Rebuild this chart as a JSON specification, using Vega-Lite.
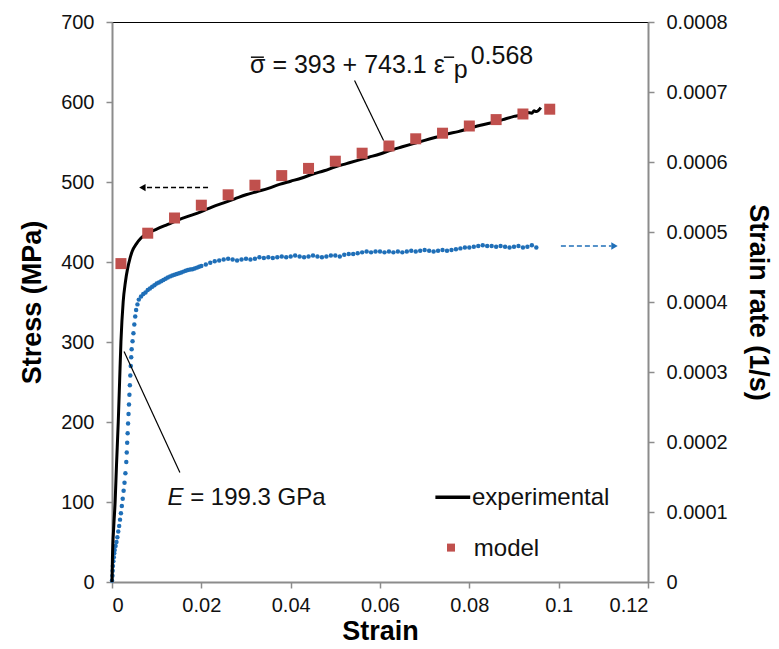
{
  "$schema": "https://vega.github.io/schema/vega-lite/v6.json",
  "width": 536,
  "height": 560,
  "autosize": "none",
  "padding": {"left": 112, "top": 22, "right": 131, "bottom": 67},
  "background": "white",
  "config": {
    "font": "Liberation Sans",
    "view": {"stroke": "#000", "strokeWidth": 1},
    "axis": {
      "grid": false,
      "labelFont": "Liberation Sans",
      "labelFontSize": 20,
      "labelColor": "#111",
      "titleFont": "Liberation Sans",
      "titleFontSize": 27,
      "titleFontWeight": "bold",
      "titleColor": "#000",
      "domainColor": "#8c8c8c",
      "domainWidth": 2,
      "tickColor": "#8c8c8c",
      "tickWidth": 1.5,
      "tickSize": 6
    }
  },
  "datasets": {
    "rate": [
      {"x": 0, "r": 0.0000023}, {"x": 0.0001, "r": 0.0000091}, {"x": 0.00015, "r": 0.0000160}, {"x": 0.0002, "r": 0.0000229},
      {"x": 0.0003, "r": 0.0000297}, {"x": 0.0004, "r": 0.0000354}, {"x": 0.0005, "r": 0.0000411}, {"x": 0.0006, "r": 0.0000457},
      {"x": 0.0008, "r": 0.0000514}, {"x": 0.0010, "r": 0.0000571}, {"x": 0.0012, "r": 0.0000640}, {"x": 0.0014, "r": 0.0000720},
      {"x": 0.0016, "r": 0.0000800}, {"x": 0.0018, "r": 0.0000891}, {"x": 0.0020, "r": 0.0000983}, {"x": 0.0022, "r": 0.0001086},
      {"x": 0.0024, "r": 0.0001189}, {"x": 0.0026, "r": 0.0001303}, {"x": 0.0028, "r": 0.0001417}, {"x": 0.0030, "r": 0.0001554},
      {"x": 0.0032, "r": 0.0001714}, {"x": 0.0033, "r": 0.0001851}, {"x": 0.0034, "r": 0.0001989}, {"x": 0.0035, "r": 0.0002126},
      {"x": 0.0036, "r": 0.0002263}, {"x": 0.0037, "r": 0.0002400}, {"x": 0.0038, "r": 0.0002537}, {"x": 0.0039, "r": 0.0002674},
      {"x": 0.0040, "r": 0.0002811}, {"x": 0.0041, "r": 0.0002949}, {"x": 0.0042, "r": 0.0003086}, {"x": 0.0043, "r": 0.0003211},
      {"x": 0.0044, "r": 0.0003326}, {"x": 0.0046, "r": 0.0003440}, {"x": 0.0048, "r": 0.0003554}, {"x": 0.0050, "r": 0.0003680},
      {"x": 0.0052, "r": 0.0003794}, {"x": 0.0054, "r": 0.0003886}, {"x": 0.0057, "r": 0.0003966}, {"x": 0.0060, "r": 0.0004034},
      {"x": 0.0065, "r": 0.0004080}, {"x": 0.0070, "r": 0.0004114}, {"x": 0.0075, "r": 0.0004137}, {"x": 0.0080, "r": 0.0004171},
      {"x": 0.0085, "r": 0.0004194}, {"x": 0.0090, "r": 0.0004217}, {"x": 0.0095, "r": 0.0004240}, {"x": 0.0100, "r": 0.0004263},
      {"x": 0.0105, "r": 0.0004280}, {"x": 0.0110, "r": 0.0004297}, {"x": 0.0115, "r": 0.0004314}, {"x": 0.0120, "r": 0.0004331},
      {"x": 0.0125, "r": 0.0004350}, {"x": 0.0130, "r": 0.0004366}, {"x": 0.0135, "r": 0.0004377}, {"x": 0.0140, "r": 0.0004389},
      {"x": 0.0145, "r": 0.0004400}, {"x": 0.0150, "r": 0.0004411}, {"x": 0.0155, "r": 0.0004423}, {"x": 0.0160, "r": 0.0004434},
      {"x": 0.0165, "r": 0.0004446}, {"x": 0.0170, "r": 0.0004457}, {"x": 0.0175, "r": 0.0004463}, {"x": 0.0180, "r": 0.0004469},
      {"x": 0.0185, "r": 0.0004480}, {"x": 0.0190, "r": 0.0004491}, {"x": 0.0195, "r": 0.0004503}, {"x": 0.0200, "r": 0.0004514},
      {"x": 0.0210, "r": 0.0004537}, {"x": 0.0220, "r": 0.0004560}, {"x": 0.0230, "r": 0.0004583}, {"x": 0.0240, "r": 0.0004594},
      {"x": 0.0250, "r": 0.0004606}, {"x": 0.0260, "r": 0.0004617}, {"x": 0.0270, "r": 0.0004606}, {"x": 0.0280, "r": 0.0004594},
      {"x": 0.0290, "r": 0.0004606}, {"x": 0.0300, "r": 0.0004617}, {"x": 0.0310, "r": 0.0004606}, {"x": 0.0320, "r": 0.0004617},
      {"x": 0.0330, "r": 0.0004640}, {"x": 0.0340, "r": 0.0004629}, {"x": 0.0350, "r": 0.0004640}, {"x": 0.0360, "r": 0.0004629},
      {"x": 0.0370, "r": 0.0004640}, {"x": 0.0380, "r": 0.0004651}, {"x": 0.0390, "r": 0.0004640}, {"x": 0.0400, "r": 0.0004651},
      {"x": 0.0410, "r": 0.0004663}, {"x": 0.0420, "r": 0.0004651}, {"x": 0.0430, "r": 0.0004640}, {"x": 0.0440, "r": 0.0004651},
      {"x": 0.0450, "r": 0.0004663}, {"x": 0.0460, "r": 0.0004651}, {"x": 0.0470, "r": 0.0004640}, {"x": 0.0480, "r": 0.0004651},
      {"x": 0.0490, "r": 0.0004663}, {"x": 0.0500, "r": 0.0004663}, {"x": 0.0510, "r": 0.0004651}, {"x": 0.0520, "r": 0.0004674},
      {"x": 0.0530, "r": 0.0004686}, {"x": 0.0540, "r": 0.0004686}, {"x": 0.0550, "r": 0.0004697}, {"x": 0.0560, "r": 0.0004709},
      {"x": 0.0570, "r": 0.0004720}, {"x": 0.0580, "r": 0.0004709}, {"x": 0.0590, "r": 0.0004720}, {"x": 0.0600, "r": 0.0004720},
      {"x": 0.0610, "r": 0.0004709}, {"x": 0.0620, "r": 0.0004720}, {"x": 0.0630, "r": 0.0004709}, {"x": 0.0640, "r": 0.0004720},
      {"x": 0.0650, "r": 0.0004709}, {"x": 0.0660, "r": 0.0004720}, {"x": 0.0670, "r": 0.0004731}, {"x": 0.0680, "r": 0.0004720},
      {"x": 0.0690, "r": 0.0004731}, {"x": 0.0700, "r": 0.0004743}, {"x": 0.0710, "r": 0.0004731}, {"x": 0.0720, "r": 0.0004720},
      {"x": 0.0730, "r": 0.0004731}, {"x": 0.0740, "r": 0.0004743}, {"x": 0.0750, "r": 0.0004731}, {"x": 0.0760, "r": 0.0004743},
      {"x": 0.0770, "r": 0.0004754}, {"x": 0.0780, "r": 0.0004766}, {"x": 0.0790, "r": 0.0004777}, {"x": 0.0800, "r": 0.0004777},
      {"x": 0.0810, "r": 0.0004789}, {"x": 0.0820, "r": 0.0004800}, {"x": 0.0830, "r": 0.0004811}, {"x": 0.0840, "r": 0.0004800},
      {"x": 0.0850, "r": 0.0004800}, {"x": 0.0860, "r": 0.0004789}, {"x": 0.0870, "r": 0.0004800}, {"x": 0.0880, "r": 0.0004789},
      {"x": 0.0890, "r": 0.0004777}, {"x": 0.0900, "r": 0.0004789}, {"x": 0.0910, "r": 0.0004800}, {"x": 0.0920, "r": 0.0004777},
      {"x": 0.0930, "r": 0.0004789}, {"x": 0.0940, "r": 0.0004811}, {"x": 0.0950, "r": 0.0004777}
    ],
    "rateArrow": [{"x": 0.1005, "x2": 0.1118, "r": 0.00048}],
    "rateHead": [{"x": 0.1125, "r": 0.00048}],
    "experimental": [
      {"x": 0, "y": 0}, {"x": 0.0001, "y": 30}, {"x": 0.0004, "y": 70}, {"x": 0.0007, "y": 100}, {"x": 0.001, "y": 145},
      {"x": 0.0014, "y": 200}, {"x": 0.0017, "y": 250}, {"x": 0.002, "y": 300}, {"x": 0.0025, "y": 350}, {"x": 0.003, "y": 375},
      {"x": 0.0035, "y": 392}, {"x": 0.004, "y": 404}, {"x": 0.0045, "y": 413}, {"x": 0.0055, "y": 423}, {"x": 0.0065, "y": 430},
      {"x": 0.0081, "y": 436}, {"x": 0.010, "y": 441}, {"x": 0.0125, "y": 447}, {"x": 0.015, "y": 453}, {"x": 0.0175, "y": 458},
      {"x": 0.020, "y": 463}, {"x": 0.0225, "y": 469}, {"x": 0.025, "y": 474}, {"x": 0.0275, "y": 479}, {"x": 0.030, "y": 484},
      {"x": 0.0325, "y": 488}, {"x": 0.035, "y": 492}, {"x": 0.0375, "y": 497}, {"x": 0.040, "y": 501}, {"x": 0.0425, "y": 505},
      {"x": 0.045, "y": 510}, {"x": 0.0475, "y": 514}, {"x": 0.050, "y": 519}, {"x": 0.0525, "y": 523}, {"x": 0.055, "y": 527},
      {"x": 0.0575, "y": 531}, {"x": 0.060, "y": 535}, {"x": 0.0625, "y": 540}, {"x": 0.065, "y": 544}, {"x": 0.0675, "y": 548},
      {"x": 0.070, "y": 552}, {"x": 0.0725, "y": 556}, {"x": 0.075, "y": 560}, {"x": 0.0775, "y": 563}, {"x": 0.080, "y": 567},
      {"x": 0.0825, "y": 571}, {"x": 0.085, "y": 574}, {"x": 0.0875, "y": 578}, {"x": 0.090, "y": 582}, {"x": 0.0915, "y": 584},
      {"x": 0.092, "y": 586}, {"x": 0.0925, "y": 584}, {"x": 0.093, "y": 587}, {"x": 0.094, "y": 586}, {"x": 0.0945, "y": 589},
      {"x": 0.095, "y": 588}, {"x": 0.096, "y": 593}
    ],
    "model": [
      {"x": 0.002, "y": 398}, {"x": 0.008, "y": 436}, {"x": 0.014, "y": 455}, {"x": 0.020, "y": 471}, {"x": 0.026, "y": 484},
      {"x": 0.032, "y": 496}, {"x": 0.038, "y": 508}, {"x": 0.044, "y": 517}, {"x": 0.050, "y": 526}, {"x": 0.056, "y": 536},
      {"x": 0.062, "y": 545}, {"x": 0.068, "y": 554}, {"x": 0.074, "y": 561}, {"x": 0.080, "y": 570}, {"x": 0.086, "y": 578},
      {"x": 0.092, "y": 585}, {"x": 0.098, "y": 591}
    ],
    "leaders": [
      {"x": 0.0543, "y": 627, "x2": 0.0608, "y2": 552},
      {"x": 0.0027, "y": 288, "x2": 0.0152, "y2": 137}
    ],
    "bars": [
      {"x": 0.0311, "x2": 0.0340, "y": 656},
      {"x": 0.0743, "x2": 0.0766, "y": 656}
    ],
    "stressArrow": [{"x": 0.0215, "x2": 0.0078, "y": 493}],
    "stressHead": [{"x": 0.0068, "y": 493}],
    "legendLine": [{"x": 0.0724, "x2": 0.0802, "y": 106}],
    "legendSquare": [{"x": 0.0759, "y": 43}],
    "eqMain": [{"x": 0.0309, "y": 636, "t": "σ  = 393 + 743.1 ε"}],
    "eqSub": [{"x": 0.0765, "y": 630, "t": "p"}],
    "eqSup": [{"x": 0.0803, "y": 648, "t": "0.568"}],
    "eItalic": [{"x": 0.0124, "y": 96, "t": "E"}],
    "labels": [
      {"x": 0.0175, "y": 96, "t": "= 199.3 GPa"},
      {"x": 0.0806, "y": 96, "t": "experimental"},
      {"x": 0.0810, "y": 33, "t": "model"}
    ]
  },
  "encoding": {
    "x": {
      "field": "x", "type": "quantitative",
      "scale": {"domain": [0, 0.12], "nice": false, "zero": false},
      "axis": {"values": [0, 0.02, 0.04, 0.06, 0.08, 0.1, 0.12], "format": ".2~f", "title": "Strain", "labelPadding": 7, "titlePadding": 3}
    }
  },
  "layer": [
    {
      "encoding": {
        "y": {
          "field": "r", "type": "quantitative",
          "scale": {"domain": [0, 0.0008], "nice": false, "zero": false},
          "axis": {"orient": "right", "values": [0, 0.0001, 0.0002, 0.0003, 0.0004, 0.0005, 0.0006, 0.0007, 0.0008], "format": ".4~f", "title": "Strain rate (1/s)", "labelPadding": 12, "titlePadding": 16}
        }
      },
      "layer": [
        {"data": {"name": "rate"}, "mark": {"type": "circle", "size": 20, "color": "#1f6fb8", "opacity": 1}},
        {"data": {"name": "rateArrow"}, "mark": {"type": "rule", "color": "#1f6fb8", "strokeWidth": 1.5, "strokeDash": [5, 3]}, "encoding": {"x2": {"field": "x2"}}},
        {"data": {"name": "rateHead"}, "mark": {"type": "point", "shape": "triangle-right", "filled": true, "size": 55, "color": "#1f6fb8", "opacity": 1}}
      ]
    },
    {
      "encoding": {
        "y": {
          "field": "y", "type": "quantitative",
          "scale": {"domain": [0, 700], "nice": false, "zero": false},
          "axis": {"orient": "left", "values": [0, 100, 200, 300, 400, 500, 600, 700], "title": "Stress (MPa)", "labelPadding": 12, "titlePadding": 14}
        }
      },
      "layer": [
        {"data": {"name": "experimental"}, "mark": {"type": "line", "color": "#000", "strokeWidth": 3, "interpolate": "monotone"}},
        {"data": {"name": "model"}, "mark": {"type": "square", "size": 121, "color": "#c0504d", "opacity": 1}},
        {"data": {"name": "leaders"}, "mark": {"type": "rule", "color": "#000", "strokeWidth": 1.2}, "encoding": {"x2": {"field": "x2"}, "y2": {"field": "y2"}}},
        {"data": {"name": "bars"}, "mark": {"type": "rule", "color": "#111", "strokeWidth": 1.5}, "encoding": {"x2": {"field": "x2"}}},
        {"data": {"name": "stressArrow"}, "mark": {"type": "rule", "color": "#000", "strokeWidth": 1.5, "strokeDash": [5, 3]}, "encoding": {"x2": {"field": "x2"}}},
        {"data": {"name": "stressHead"}, "mark": {"type": "point", "shape": "triangle-left", "filled": true, "size": 55, "color": "#000", "opacity": 1}},
        {"data": {"name": "legendLine"}, "mark": {"type": "rule", "color": "#000", "strokeWidth": 3.5}, "encoding": {"x2": {"field": "x2"}}},
        {"data": {"name": "legendSquare"}, "mark": {"type": "square", "size": 64, "color": "#c0504d", "opacity": 1}},
        {"data": {"name": "eqMain"}, "mark": {"type": "text", "align": "left", "baseline": "alphabetic", "fontSize": 25, "font": "Liberation Sans", "color": "#111"}, "encoding": {"text": {"field": "t"}}},
        {"data": {"name": "eqSub"}, "mark": {"type": "text", "align": "left", "baseline": "alphabetic", "fontSize": 25, "font": "Liberation Sans", "color": "#111"}, "encoding": {"text": {"field": "t"}}},
        {"data": {"name": "eqSup"}, "mark": {"type": "text", "align": "left", "baseline": "alphabetic", "fontSize": 25, "font": "Liberation Sans", "color": "#111"}, "encoding": {"text": {"field": "t"}}},
        {"data": {"name": "eItalic"}, "mark": {"type": "text", "align": "left", "baseline": "alphabetic", "fontSize": 24, "fontStyle": "italic", "font": "Liberation Sans", "color": "#111"}, "encoding": {"text": {"field": "t"}}},
        {"data": {"name": "labels"}, "mark": {"type": "text", "align": "left", "baseline": "alphabetic", "fontSize": 24, "font": "Liberation Sans", "color": "#111"}, "encoding": {"text": {"field": "t"}}}
      ]
    }
  ],
  "resolve": {"scale": {"y": "independent"}, "axis": {"y": "independent"}}
}
